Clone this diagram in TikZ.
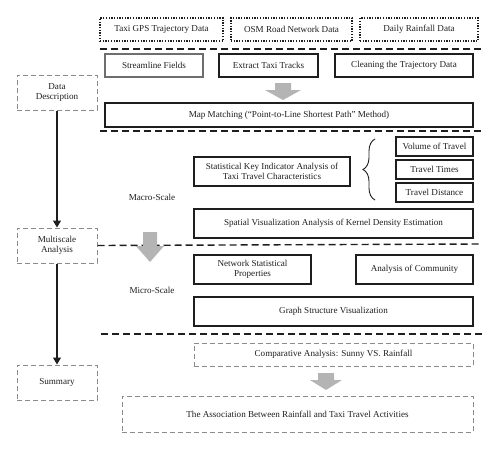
\documentclass[tikz,border=0pt]{standalone}
\usepackage{fontspec}
\setmainfont{Liberation Serif}
\usetikzlibrary{arrows.meta,decorations.pathreplacing}
\definecolor{boxgray}{HTML}{8A8A8A}
\definecolor{arrgray}{HTML}{B4B4B4}
\definecolor{ink}{HTML}{1E1E1E}
\begin{document}
\begin{tikzpicture}[x=1pt,y=-1pt,
  every node/.style={font=\fontsize{9.1}{10.4}\selectfont, text=ink, inner sep=1pt, align=center},
  solidbox/.style={draw=ink, line width=1.1pt},
  lightbox/.style={draw=boxgray!80!black, line width=1.1pt},
  dotbox/.style={draw=ink, line width=1.3pt, dash pattern=on 1.3pt off 1.4pt},
  graybox/.style={draw=boxgray, line width=1pt, dash pattern=on 5pt off 3pt},
  sepline/.style={draw=ink, line width=1.4pt, dash pattern=on 7pt off 4pt},
  blockarrow/.style={fill=arrgray, draw=none},
  flow/.style={draw=ink, line width=1.2pt, -{Triangle[length=7pt,width=8pt]}}
]
\useasboundingbox (0,0) rectangle (500,450);

% data sources
\node[dotbox, minimum width=123, minimum height=23] (gps) at (161.5,29.5) {Taxi GPS Trajectory Data};
\node[dotbox, minimum width=121, minimum height=23] (osm) at (291.5,29.5) {OSM Road Network Data};
\node[dotbox, minimum width=118, minimum height=23] (rain) at (419,29.5) {Daily Rainfall Data};

% preprocessing
\node[lightbox, minimum width=98, minimum height=23] (sf) at (154,65.5) {Streamline Fields};
\node[solidbox, minimum width=99, minimum height=23] (ett) at (268.5,65.5) {Extract Taxi Tracks};
\node[solidbox, minimum width=138, minimum height=23] (clean) at (404,65.5) {Cleaning the Trajectory Data};
\node[solidbox, minimum width=368, minimum height=24] (mm) at (289,115) {Map Matching (``Point-to-Line Shortest Path'' Method)};

% left column
\node[graybox, minimum width=80, minimum height=35] (dd) at (57,92.5) {Data\\Description};
\node[graybox, minimum width=80, minimum height=35] (ma) at (57,245.5) {Multiscale\\Analysis};
\node[graybox, minimum width=80, minimum height=35] (sum) at (57,382.5) {Summary};
\draw[flow] (dd.south) -- (ma.north);
\draw[flow] (ma.south) -- (sum.north);

% macro scale
\node (macro) at (152,197) {Macro-Scale};
\node[solidbox, minimum width=156, minimum height=29] (ski) at (272,171.5) {Statistical Key Indicator Analysis of\\Taxi Travel Characteristics};
\node[solidbox, minimum width=77, minimum height=19] (vol) at (434.5,146.5) {Volume of Travel};
\node[solidbox, minimum width=77, minimum height=19] (tt) at (434.5,169.5) {Travel Times};
\node[solidbox, minimum width=77, minimum height=19] (td) at (434.5,192.5) {Travel Distance};
\coordinate (brb) at (375,200);
\coordinate (brt) at (375,139);
\draw[ink, line width=0.9pt, decorate, decoration={brace, amplitude=12pt}] (brb) -- (brt);
\node[solidbox, minimum width=279, minimum height=29] (svk) at (333.5,223.5) {Spatial Visualization Analysis of Kernel Density Estimation};

% micro scale
\node (micro) at (152,290) {Micro-Scale};
\node[solidbox, minimum width=117, minimum height=29] (nsp) at (252.5,269.5) {Network Statistical\\Properties};
\node[solidbox, minimum width=117, minimum height=29] (aoc) at (414.5,269.5) {Analysis of Community};
\node[solidbox, minimum width=279, minimum height=29] (gsv) at (333.5,311.5) {Graph Structure Visualization};

% summary
\node[graybox, minimum width=279, minimum height=23] (cmp) at (333.5,354.5) {Comparative Analysis: Sunny VS. Rainfall};
\node[graybox, minimum width=351, minimum height=36] (assoc) at (297.5,414) {The Association Between Rainfall and Taxi Travel Activities};

% separator lines
\draw[sepline] (100,49) -- (482,49);
\draw[sepline] (100,131) -- (482,131);
\draw[sepline] (ma.east) -- (482,244);
\draw[sepline] (101,334) -- (482,334);

% block arrows
\fill[blockarrow] (275,83) -- (291,83) -- (291,90) -- (301,90) -- (283,100) -- (265,90) -- (275,90) -- cycle;
\fill[blockarrow] (143,232) -- (157,232) -- (157,246) -- (164,246) -- (150,262) -- (136,246) -- (143,246) -- cycle;
\fill[blockarrow] (318,373) -- (334,373) -- (334,380) -- (342,380) -- (326,390) -- (310,380) -- (318,380) -- cycle;
\end{tikzpicture}
\end{document}
